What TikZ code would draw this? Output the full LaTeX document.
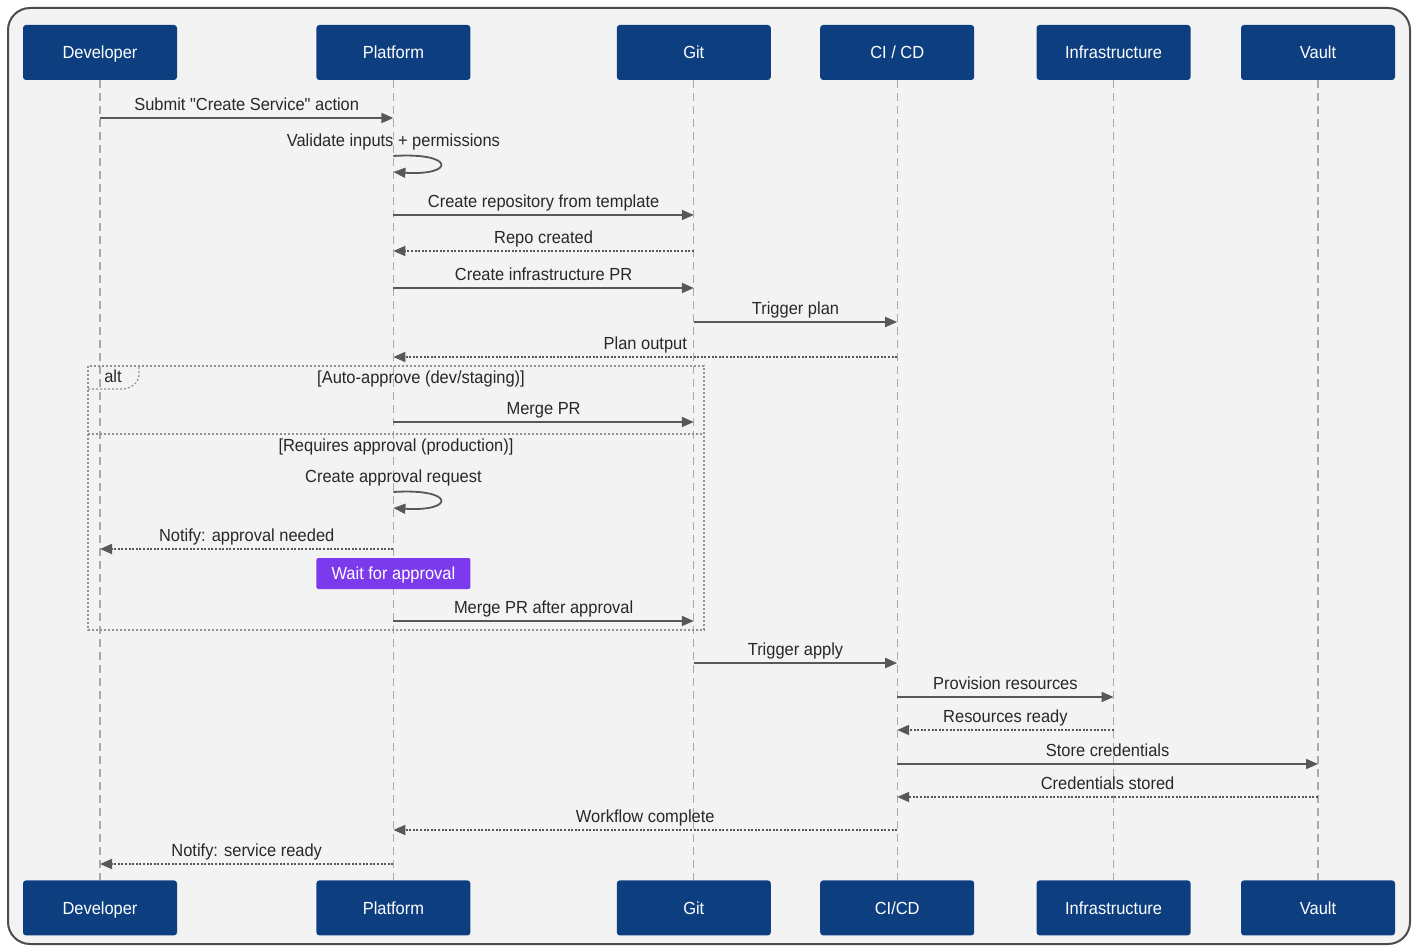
\documentclass[tikz,border=0pt]{standalone}
\usepackage{fontspec}
\setmainfont{Liberation Sans}[FakeStretch=0.94, Ligatures=TeXOff]
\usetikzlibrary{arrows.meta,positioning}
\definecolor{actorblue}{RGB}{13,63,128}
\definecolor{notepurple}{RGB}{124,58,237}
\definecolor{linegray}{RGB}{88,88,88}
\definecolor{lifegray}{RGB}{170,170,170}
\definecolor{bggray}{RGB}{243,243,244}
\definecolor{framegray}{RGB}{75,75,80}
\definecolor{textgray}{RGB}{40,40,40}

\begin{document}
\begin{tikzpicture}[x=1pt, y=-1pt, node distance=10pt,
  every node/.style={font=\fontsize{17.5}{20}\selectfont, text=textgray, text height=12.5pt, text depth=3.5pt},
  actor/.style={fill=actorblue, rounded corners=3pt, minimum width=154pt, minimum height=55pt, text=white, text depth=0pt},
  life/.style={lifegray, line width=1.3pt, dash pattern=on 8pt off 5pt},
  msg/.style={linegray, line width=1.8pt, -{Triangle[length=12pt, width=10pt]}},
  reply/.style={msg, dash pattern=on 2pt off 1.6pt},
  lbl/.style={midway, above=0pt},
  altline/.style={lifegray!85!black, line width=1.2pt, dash pattern=on 2pt off 2pt},
  note/.style={fill=notepurple, rounded corners=2pt, minimum width=154pt, minimum height=31pt, text=white, text depth=0pt}]
\useasboundingbox (0,0) rectangle (1416,949);
\fill[white] (0,0) rectangle (1416,949);
\draw[framegray, line width=2pt, fill=bggray, rounded corners=22pt] (8,8) rectangle (1410,944);
% participants
\node[actor] (dev) at (100,52.5) {Developer};
\node[actor, right=139pt of dev] (plat) {Platform};
\node[actor, right=146pt of plat] (git) {Git};
\node[actor, right=49pt of git] (cicd) {CI / CD};
\node[actor, right=62pt of cicd] (infra) {Infrastructure};
\node[actor, right=50pt of infra] (vault) {Vault};
\node[actor, below=800pt of dev] (dev-bot) {Developer};
\node[actor, below=800pt of plat] (plat-bot) {Platform};
\node[actor, below=800pt of git] (git-bot) {Git};
\node[actor, below=800pt of cicd] (cicd-bot) {CI/CD};
\node[actor, below=800pt of infra] (infra-bot) {Infrastructure};
\node[actor, below=800pt of vault] (vault-bot) {Vault};
\foreach \a in {dev,plat,git,cicd,infra,vault}
  \draw[life] (\a.south) -- (\a-bot.north);
% messages
\draw[msg] (dev |- 0,118) -- node[lbl] (submit) {Submit "Create Service" action} (plat |- 0,118);
\node (validate) at (plat |- 0,142) {Validate inputs + permissions};
\draw[msg] (plat |- 0,156) .. controls +(62,-4) and +(62,4) .. (plat |- 0,172);
\draw[msg] (plat |- 0,215) -- node[lbl] (mkrepo) {Create repository from template} (git |- 0,215);
\draw[reply] (git |- 0,251) -- node[lbl] (repook) {Repo created} (plat |- 0,251);
\draw[msg] (plat |- 0,288) -- node[lbl] (mkpr) {Create infrastructure PR} (git |- 0,288);
\draw[msg] (git |- 0,322) -- node[lbl] (plan) {Trigger plan} (cicd |- 0,322);
\draw[reply] (cicd |- 0,357) -- node[lbl] (planout) {Plan output} (plat |- 0,357);
% alt block
\draw[altline] (88,366) rectangle (704,630);
\draw[altline] (88,389) -- (122,389) to[out=0, in=-90] (139,374) -- (139,366);
\node (alt) at (113,378) {alt};
\node (auto) at (421,379) {[Auto-approve (dev/staging)]};
\draw[msg] (plat |- 0,422) -- node[lbl] (merge) {Merge PR} (git |- 0,422);
\draw[altline] (88,434) -- (704,434);
\node (prod) at (396,447) {[Requires approval (production)]};
\node (request) at (plat |- 0,478) {Create approval request};
\draw[msg] (plat |- 0,492) .. controls +(62,-4) and +(62,4) .. (plat |- 0,508);
\draw[reply] (plat |- 0,549) -- node[lbl] (notify) {Notify: approval needed} (dev |- 0,549);
\node[note] (wait) at (plat |- 0,573.5) {Wait for approval};
\draw[msg] (plat |- 0,621) -- node[lbl] (merge2) {Merge PR after approval} (git |- 0,621);
% apply
\draw[msg] (git |- 0,663) -- node[lbl] (apply) {Trigger apply} (cicd |- 0,663);
\draw[msg] (cicd |- 0,697) -- node[lbl] (prov) {Provision resources} (infra |- 0,697);
\draw[reply] (infra |- 0,730) -- node[lbl] (ready) {Resources ready} (cicd |- 0,730);
\draw[msg] (cicd |- 0,764) -- node[lbl] (store) {Store credentials} (vault |- 0,764);
\draw[reply] (vault |- 0,797) -- node[lbl] (stored) {Credentials stored} (cicd |- 0,797);
\draw[reply] (cicd |- 0,830) -- node[lbl] (done) {Workflow complete} (plat |- 0,830);
\draw[reply] (plat |- 0,864) -- node[lbl] (svcready) {Notify: service ready} (dev |- 0,864);
\end{tikzpicture}
\end{document}
